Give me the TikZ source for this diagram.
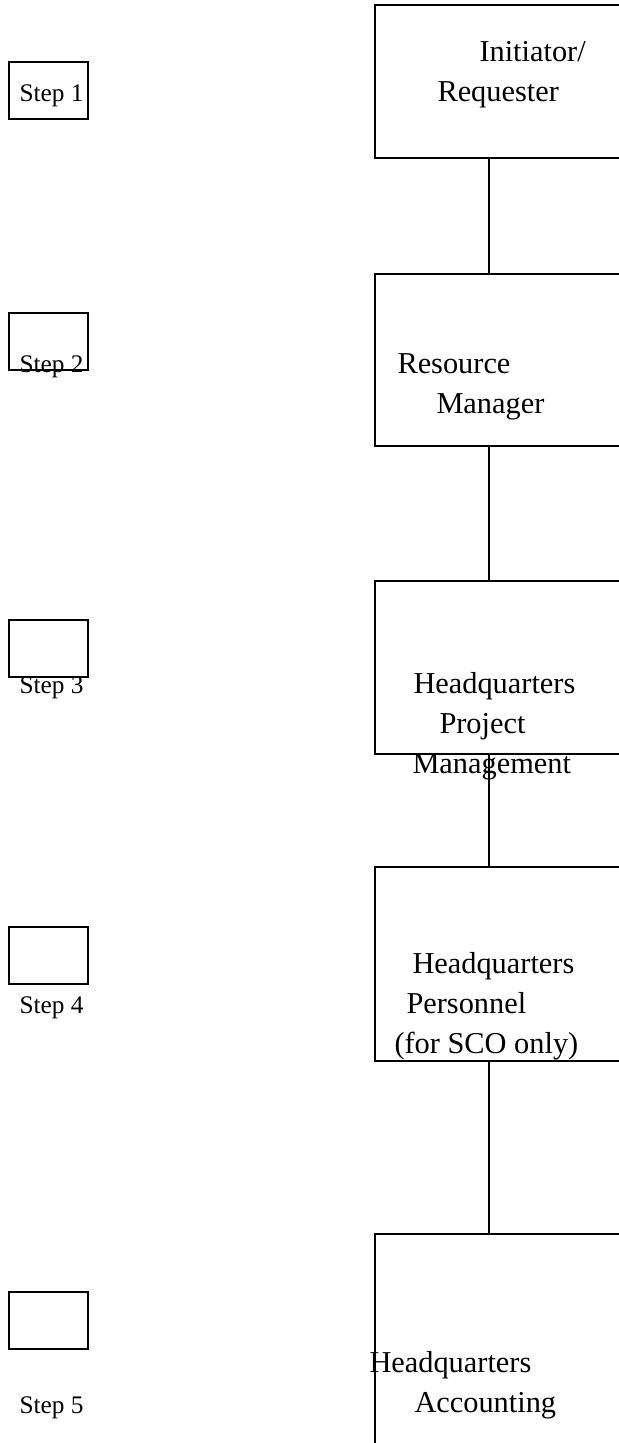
\documentclass[tikz,border=0pt]{standalone}
\usepackage{fontspec}
\setmainfont{Liberation Serif}
\usetikzlibrary{positioning}

\def\u{0.3953pt}
\tikzset{
    office/.style={draw, line width=0.6pt, rectangle, anchor=north west,
        minimum width=290*\u, inner sep=0pt},
    stepbox/.style={draw, line width=0.6pt, rectangle, anchor=north west,
        minimum width=79*\u, minimum height=57*\u, inner sep=0pt},
    steplabel/.style={anchor=base west, inner sep=0pt, font=\fontsize{10}{12}\selectfont},
    officelabel/.style={anchor=base west, inner sep=0pt, font=\fontsize{12}{14}\selectfont},
    link/.style={line width=0.6pt}
}

\begin{document}
\begin{tikzpicture}[x=\u, y=-\u]
        \useasboundingbox (0,0) rectangle (618,1443);

        % Draw the offices
        \node[office, minimum height=153*\u] (b1) at (374,4)    {};
        \node[office, minimum height=172*\u] (b2) at (374,273)  {};
        \node[office, minimum height=173*\u] (b3) at (374,580)  {};
        \node[office, minimum height=194*\u] (b4) at (374,866)  {};
        \node[office, minimum height=230*\u] (b5) at (374,1233) {};

        % Draw the step boxes
        \node[stepbox] (s1) at (8,61)   {};
        \node[stepbox] (s2) at (8,312)  {};
        \node[stepbox] (s3) at (8,619)  {};
        \node[stepbox] (s4) at (8,926)  {};
        \node[stepbox] (s5) at (8,1291) {};

        % Step labels
        \node[steplabel] (l1) at (19,101)  {Step 1};
        \node[steplabel] (l2) at (19,372)  {Step 2};
        \node[steplabel] (l3) at (19,693)  {Step 3};
        \node[steplabel] (l4) at (19,1013) {Step 4};
        \node[steplabel] (l5) at (19,1413) {Step 5};

        % Office labels
        \node[officelabel] (t11) at (479,61)   {Initiator/};
        \node[officelabel] (t12) at (437,101)  {Requester};
        \node[officelabel] (t21) at (397,373)  {Resource};
        \node[officelabel] (t22) at (436,413)  {Manager};
        \node[officelabel] (t31) at (413,693)  {Headquarters};
        \node[officelabel] (t32) at (439,733)  {Project};
        \node[officelabel] (t33) at (412,773)  {Management};
        \node[officelabel] (t41) at (412,973)  {Headquarters};
        \node[officelabel] (t42) at (406,1013) {Personnel};
        \node[officelabel] (t43) at (394,1053) {(for SCO only)};
        \node[officelabel] (t51) at (369,1372) {Headquarters};
        \node[officelabel] (t52) at (414,1412) {Accounting};

        % Connect the offices
        \draw[link] ([xshift=115*\u]b1.south west) -- ([xshift=115*\u]b2.north west);
        \draw[link] ([xshift=115*\u]b2.south west) -- ([xshift=115*\u]b3.north west);
        \draw[link] ([xshift=115*\u]b3.south west) -- ([xshift=115*\u]b4.north west);
        \draw[link] ([xshift=115*\u]b4.south west) -- ([xshift=115*\u]b5.north west);
\end{tikzpicture}
\end{document}
